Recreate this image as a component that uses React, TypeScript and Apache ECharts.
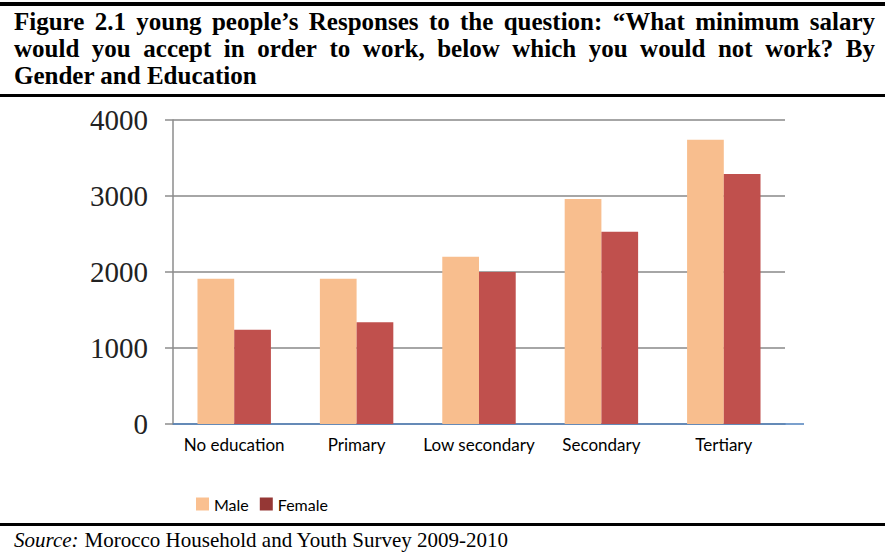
import React, { useEffect, useRef } from "react";
import * as echarts from "echarts";

const categories = ["No education", "Primary", "Low secondary", "Secondary", "Tertiary"];
const maleValues = [1910, 1910, 2200, 2960, 3740];
const femaleValues = [1240, 1340, 2000, 2530, 3290];
const yTicks = { min: 0, max: 4000, interval: 1000 };
const titleLines = [
  "Figure 2.1 young people’s Responses to the question: “What minimum salary",
  "would you accept in order to work, below which you would not work? By",
  "Gender and Education",
];
const sourceLabel = "Source:";
const sourceText = "Morocco Household and Youth Survey 2009-2010";

const TITLE_FONT = "bold 25px 'Liberation Serif'";
const SRC_ITALIC = "italic 21px 'Liberation Serif'";
const SRC_FONT = "21px 'Liberation Serif'";

function measure(font: string, text: string): number {
  const canvas = document.createElement("canvas");
  const ctx = canvas.getContext("2d")!;
  ctx.font = font;
  return ctx.measureText(text).width;
}

function buildTitle(): any[] {
  const left = 14;
  const right = 875;
  const centers = [21.5, 48.5, 75.5];
  const out: any[] = [];
  titleLines.forEach((line, i) => {
    const style = {
      fill: "#000",
      font: TITLE_FONT,
      align: "left",
      verticalAlign: "middle",
    };
    if (i === titleLines.length - 1) {
      out.push({ type: "text", x: left, y: centers[i], style: { ...style, text: line } });
      return;
    }
    const words = line.split(" ");
    const widths = words.map((w) => measure(TITLE_FONT, w));
    const total = widths.reduce((a, b) => a + b, 0);
    const gap = (right - left - total) / (words.length - 1);
    let x = left;
    words.forEach((w, j) => {
      out.push({ type: "text", x, y: centers[i], style: { ...style, text: w } });
      x += widths[j] + gap;
    });
  });
  return out;
}

export default function App() {
  const ref = useRef<HTMLDivElement>(null);
  useEffect(() => {
    if (!ref.current) return;
    const chart = echarts.init(ref.current, null, { renderer: "svg" });
    const srcLabelW = measure(SRC_ITALIC, sourceLabel);
    const graphic: any[] = [
      { type: "rect", shape: { x: 0, y: 2, width: 885, height: 4 }, style: { fill: "#000" } },
      { type: "rect", shape: { x: 0, y: 94, width: 885, height: 3 }, style: { fill: "#000" } },
      { type: "rect", shape: { x: 0, y: 523, width: 885, height: 3 }, style: { fill: "#000" } },
      ...buildTitle(),
      {
        type: "text",
        x: 14,
        y: 540,
        style: { text: sourceLabel, font: SRC_ITALIC, fill: "#000", verticalAlign: "middle" },
      },
      {
        type: "text",
        x: 14 + srcLabelW + 6,
        y: 540,
        style: { text: sourceText, font: SRC_FONT, fill: "#000", verticalAlign: "middle" },
      },
      {
        type: "line",
        shape: { x1: 785, y1: 424, x2: 804, y2: 424 },
        style: { stroke: "#4F81BD", lineWidth: 1.5 },
      },
    ];
    chart.setOption({
      animation: false,
      grid: { left: 173, right: 100, top: 120, bottom: 128, containLabel: false },
      legend: {
        left: 196,
        top: 496,
        padding: 0,
        icon: "rect",
        itemWidth: 13,
        itemHeight: 13,
        itemGap: 11,
        textStyle: { fontFamily: "Lato", fontSize: 16, color: "#000" },
        data: [
          { name: "Male", itemStyle: { color: "#FAC090" } },
          { name: "Female", itemStyle: { color: "#953735" } },
        ],
      },
      xAxis: {
        type: "category",
        data: categories,
        axisLine: { lineStyle: { color: "#4F81BD", width: 1.5 } },
        axisTick: { show: false },
        axisLabel: { fontFamily: "Lato", fontSize: 17, color: "#000", margin: 12, interval: 0 },
      },
      yAxis: {
        type: "value",
        min: yTicks.min,
        max: yTicks.max,
        interval: yTicks.interval,
        axisLine: { show: true, lineStyle: { color: "#8C8C8C", width: 1.5 } },
        axisTick: { show: true, length: 8, lineStyle: { color: "#8C8C8C", width: 1.5 } },
        axisLabel: {
          fontFamily: "Liberation Serif",
          fontSize: 29,
          color: "#222",
          margin: 25,
          formatter: (v: number) => String(v),
        },
        splitLine: { lineStyle: { color: "#A6A6A6", width: 2 } },
      },
      series: [
        {
          name: "Male",
          type: "bar",
          data: maleValues,
          barGap: "0%",
          barCategoryGap: "40%",
          itemStyle: { color: "#F8BE8E" },
        },
        {
          name: "Female",
          type: "bar",
          data: femaleValues,
          barGap: "0%",
          barCategoryGap: "40%",
          itemStyle: { color: "#C0504D" },
        },
      ],
      graphic,
    });
    return () => chart.dispose();
  }, []);
  return (
    <div
      ref={ref}
      style={{ position: "fixed", left: 0, top: 0, width: 885, height: 552, background: "#fff" }}
    />
  );
}
